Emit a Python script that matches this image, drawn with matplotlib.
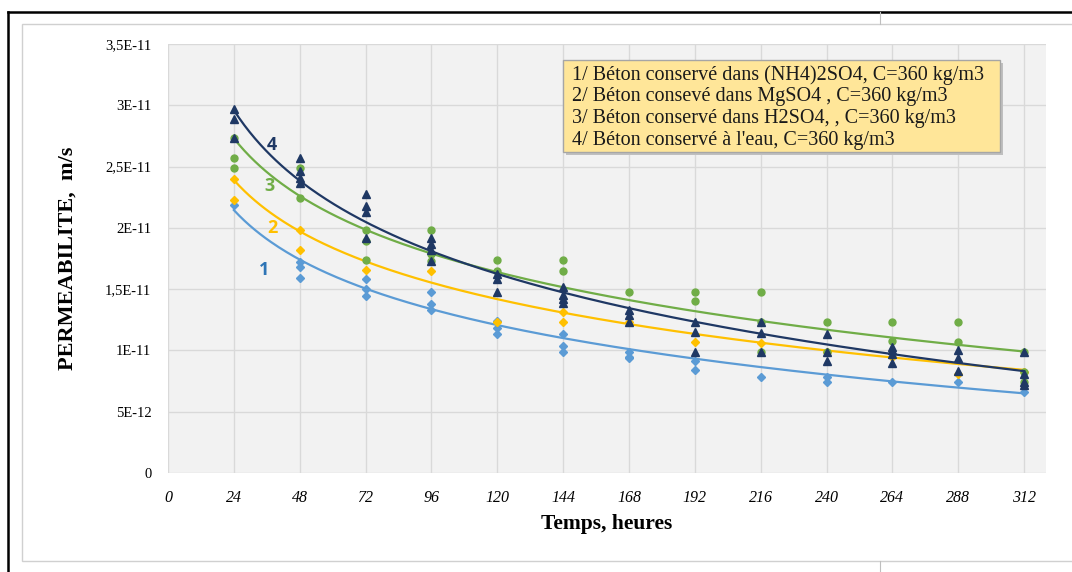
import numpy as np
import matplotlib
matplotlib.use("Agg")
import matplotlib.pyplot as plt
from matplotlib.patches import Rectangle
from matplotlib.lines import Line2D

# ---- measured permeability (x 1e-11 m/s) vs. time (hours) ----
t1 = [24, 48, 48, 48, 72, 72, 72, 96, 96, 96, 120, 120, 120, 144, 144, 144,
      168, 168, 168, 192, 192, 216, 240, 240, 264, 288, 312]
k1 = [2.19, 1.72, 1.68, 1.59, 1.58, 1.50, 1.44, 1.48, 1.38, 1.33, 1.24, 1.18, 1.13,
      1.13, 1.04, 0.99, 0.99, 0.95, 0.94, 0.91, 0.84, 0.78, 0.78, 0.74, 0.74, 0.74, 0.66]

t2 = [24, 24, 48, 48, 72, 96, 120, 144, 144, 168, 192, 216, 240, 264, 288, 312]
k2 = [2.40, 2.23, 1.98, 1.82, 1.66, 1.65, 1.23, 1.31, 1.23, 1.23, 1.07, 1.06,
      0.99, 0.95, 0.81, 0.82]

t3 = [24, 24, 24, 48, 48, 72, 72, 72, 96, 96, 96, 120, 120, 144, 144, 168,
      192, 192, 216, 216, 216, 240, 240, 264, 264, 288, 288, 312, 312, 312]
k3 = [2.73, 2.57, 2.49, 2.49, 2.24, 1.98, 1.89, 1.74, 1.98, 1.79, 1.73, 1.74, 1.65,
      1.74, 1.65, 1.48, 1.48, 1.40, 1.48, 1.23, 0.99, 1.23, 0.99, 1.23, 1.08,
      1.23, 1.07, 0.99, 0.82, 0.74]

t4 = [24, 24, 24, 48, 48, 48, 48, 72, 72, 72, 72, 96, 96, 96, 96, 120, 120, 120,
      144, 144, 144, 144, 168, 168, 168, 192, 192, 192, 216, 216, 216,
      240, 240, 240, 264, 264, 264, 264, 288, 288, 288, 312, 312, 312, 312]
k4 = [2.97, 2.89, 2.73, 2.57, 2.46, 2.41, 2.37, 2.28, 2.18, 2.13, 1.92,
      1.92, 1.87, 1.82, 1.73, 1.62, 1.58, 1.48, 1.52, 1.45, 1.42, 1.39,
      1.33, 1.29, 1.23, 1.23, 1.15, 0.99, 1.23, 1.14, 0.99,
      1.13, 0.99, 0.91, 1.03, 1.00, 0.97, 0.90, 1.00, 0.94, 0.83,
      0.99, 0.81, 0.74, 0.72]
unit = 1e-11

# logarithmic trend lines k = a + b*ln(t)  (x 1e-11 m/s)
trend_a = [3.998, 4.310, 4.885, 5.598]
trend_b = [-0.583, -0.604, -0.678, -0.830]
trend_span = (24, 312)

x_ticks = list(range(0, 313, 24))
y_ticks = [0, 5e-12, 1e-11, 1.5e-11, 2e-11, 2.5e-11, 3e-11, 3.5e-11]
y_tick_labels = ["0", "5E-12", "1E-11", "1,5E-11", "2E-11", "2,5E-11", "3E-11", "3,5E-11"]

legend_lines = [
    "1/ Béton conservé dans (NH4)2SO4, C=360 kg/m3",
    "2/ Béton consevé dans MgSO4 , C=360 kg/m3",
    "3/ Béton conservé dans H2SO4, , C=360 kg/m3",
    "4/ Béton conservé à l'eau, C=360 kg/m3",
]
curve_tags = ["1", "2", "3", "4"]

colors = ["#5B9BD5", "#FFC000", "#70AD47", "#1F3864"]
tag_colors = ["#2E75B6", "#FFC000", "#70AD47", "#1F3864"]
markers = ["D", "D", "o", "^"]
msizes = [4.0, 4.0, 5.0, 5.5]
tag_pos = [(35, 1.66e-11), (38, 2.0e-11), (37, 2.34e-11), (38, 2.68e-11)]

serif = ["Liberation Serif", "DejaVu Serif"]

fig = plt.figure(figsize=(10.72, 5.72), dpi=100)
fig.patch.set_facecolor("white")

# page frame lines and chart area border
W, H = 1072, 572
def fx(px):
    return px / W
def fy(py):
    return 1 - py / H
fig.add_artist(Line2D([fx(8), 1.0], [fy(12), fy(12)], color="black", lw=1.8))
fig.add_artist(Line2D([fx(8), fx(8)], [fy(12), 0.0], color="black", lw=1.8))
fig.add_artist(Line2D([fx(880), fx(880)], [fy(12), fy(24)], color="#BFBFBF", lw=0.8))
fig.add_artist(Line2D([fx(880), fx(880)], [fy(561), 0.0], color="#BFBFBF", lw=0.8))
fig.add_artist(Rectangle((fx(22), fy(561)), 1.1, fy(24) - fy(561),
                         transform=fig.transFigure, facecolor="white",
                         edgecolor="#D0D0D0", lw=1.0, zorder=0))

ax = fig.add_axes([fx(168), fy(473), (1046 - 168) / W, (473 - 44) / H])
ax.set_facecolor("#F2F2F2")
ax.set_xlim(0, 320)
ax.set_ylim(0, 3.5e-11)
ax.set_xticks(x_ticks)
ax.set_yticks(y_ticks)
ax.set_yticklabels(y_tick_labels, fontfamily=serif, fontsize=10.5)
ax.set_xticklabels([str(v) for v in x_ticks], fontfamily=serif, fontsize=11.5, style="italic")
ax.tick_params(axis="y", length=0, pad=12)
ax.tick_params(axis="x", length=0, pad=12)
ax.grid(True, color="#D9D9D9", lw=1.0)
ax.set_axisbelow(True)
for s in ax.spines.values():
    s.set_visible(False)

series = [(t1, k1), (t2, k2), (t3, k3), (t4, k4)]
tt = np.linspace(trend_span[0], trend_span[1], 300)
for i, (t, k) in enumerate(series):
    t = np.asarray(t, float)
    k = np.asarray(k, float) * unit
    ax.plot(t, k, linestyle="none", marker=markers[i], markersize=msizes[i],
            color=colors[i], zorder=3 + i)
    ax.plot(tt, (trend_a[i] + trend_b[i] * np.log(tt)) * unit,
            color=colors[i], lw=1.6, zorder=3 + i)
    ax.text(tag_pos[i][0], tag_pos[i][1], curve_tags[i], color=tag_colors[i],
            fontsize=13, fontweight="bold", family="Open Sans",
            ha="center", va="center", zorder=10)

ax.set_xlabel("Temps, heures", fontfamily=serif, fontsize=15.5, fontweight="bold", labelpad=6)
ax.set_ylabel("PERMEABILITE,  m/s", fontfamily=serif, fontsize=16, fontweight="bold", labelpad=20)

# legend box
x0, x1 = (563 - 168) / 878, (1000 - 168) / 878
y0, y1 = (473 - 152) / 429, (473 - 60) / 429
ax.add_patch(Rectangle((x0 + 0.003, y0 - 0.008), x1 - x0, y1 - y0, transform=ax.transAxes,
                       facecolor="#BFBFBF", edgecolor="none", zorder=11))
ax.add_patch(Rectangle((x0, y0), x1 - x0, y1 - y0, transform=ax.transAxes,
                       facecolor="#FFE699", edgecolor="#A6A6A6", lw=1.0, zorder=12))
for j, line in enumerate(legend_lines):
    py = 75 + j * 21.7
    ax.text((572 - 168) / 878, (473 - py) / 429, line, transform=ax.transAxes,
            fontfamily=serif, fontsize=14.5, color="#1A1A1A", va="center", ha="left", zorder=13)

fig.savefig("out.png", dpi=100)
